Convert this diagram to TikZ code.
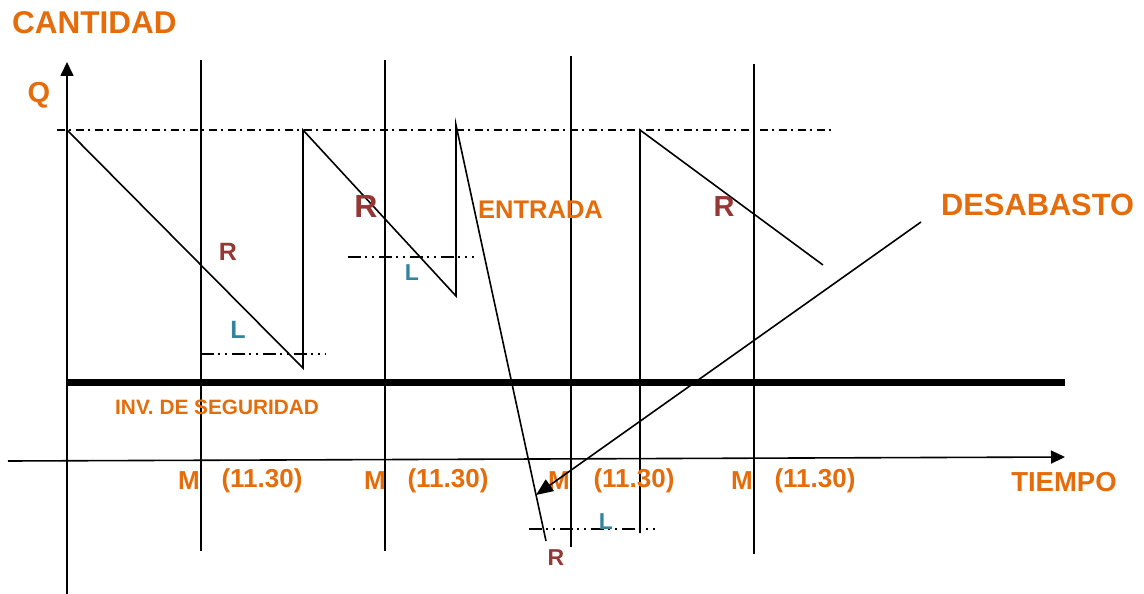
\documentclass[tikz,border=0pt]{standalone}
\usepackage{fontspec}
\setmainfont{Liberation Sans}
\usetikzlibrary{arrows.meta}
\definecolor{orng}{HTML}{E46C0A}
\definecolor{rred}{HTML}{953735}
\definecolor{lteal}{HTML}{31849B}
\begin{document}
\begin{tikzpicture}[x=1pt,y=-1pt,
  thinln/.style={line width=1.6pt, black},
  thickln/.style={line width=6.5pt, black},
  axisarrow/.style={thinln, -{Triangle[length=14pt,width=13pt]}},
  dashdot/.style={thinln, dash pattern=on 8pt off 4pt on 2pt off 5pt},
  dashdotdot/.style={thinln, dash pattern=on 13pt off 4pt on 2pt off 5pt on 2pt off 5pt},
  txt/.style={inner sep=0pt, text=orng, font=\bfseries\fontsize{#1}{#1}\selectfont},
  rlab/.style={inner sep=0pt, text=rred, font=\bfseries\fontsize{#1}{#1}\selectfont},
  llab/.style={inner sep=0pt, text=lteal, font=\bfseries\fontsize{#1}{#1}\selectfont}]
\useasboundingbox (0,0) rectangle (1144,594);

% axes
\coordinate (yb) at (67,594);
\coordinate (yt) at (67,62);
\coordinate (xl) at (8,461);
\coordinate (xr) at (1065,457);
\draw[axisarrow] (yb) -- (yt);
\draw[axisarrow] (xl) -- (xr);

% vertical period lines
\coordinate (v1t) at (201,60);  \coordinate (v1b) at (201,551);
\coordinate (v2t) at (385,60);  \coordinate (v2b) at (385,551);
\coordinate (v3t) at (571,56);  \coordinate (v3b) at (571,547);
\coordinate (v4t) at (754,64);  \coordinate (v4b) at (754,554);
\draw[thinln] (v1t) -- (v1b);
\draw[thinln] (v2t) -- (v2b);
\draw[thinln] (v3t) -- (v3b);
\draw[thinln] (v4t) -- (v4b);

% top Q level
\coordinate (ql) at (57,130);
\coordinate (qr) at (835,130);
\draw[dashdot] (ql) -- (qr);

% safety stock
\coordinate (sl) at (67,382.5);
\coordinate (sr) at (1065,382.5);
\draw[thickln] (sl) -- (sr);

% sawtooth
\coordinate (a0) at (67,130);
\coordinate (a1) at (303,368);
\coordinate (a2) at (303,130);
\coordinate (a3) at (456,296);
\coordinate (a4) at (456,125);
\coordinate (a5) at (546,541);
\coordinate (b0) at (640,533);
\coordinate (b1) at (640,130);
\coordinate (b2) at (823,265);
\draw[thinln] (a0) -- (a1) -- (a2) -- (a3) -- (a4) -- (a5);
\draw[thinln] (b0) -- (b1) -- (b2);

% reorder lines
\coordinate (r1l) at (201,354); \coordinate (r1r) at (326,354);
\coordinate (r2l) at (348,257); \coordinate (r2r) at (474,257);
\coordinate (r3l) at (529,529); \coordinate (r3r) at (655,529);
\draw[dashdotdot] (r1l) -- (r1r);
\draw[dashdotdot] (r2l) -- (r2r);
\draw[dashdotdot] (r3l) -- (r3r);

% labels
\node[txt=31.5, anchor=west] (cant) at (12,23) {CANTIDAD};
\node[txt=29] (q) at (39,95) {Q};
\node[txt=20.8, anchor=west] (inv) at (115,407) {INV. DE SEGURIDAD};
\node[txt=25.5, anchor=west] (entr) at (478,210) {ENTRADA};
\node[txt=30.8, anchor=west] (desab) at (941,205) {DESABASTO};
\node[txt=27.5] (tiempo) at (1064,482) {TIEMPO};

\node[txt=26] (m1) at (189,481) {M};
\node[txt=26] (t1) at (262,481) {(11.30)};
\node[txt=26] (m2) at (375,481) {M};
\node[txt=26] (t2) at (448,481) {(11.30)};
\node[txt=26] (m3) at (559,481) {M};
\node[txt=26] (t3) at (634,481) {(11.30)};
\node[txt=26] (m4) at (742,481) {M};
\node[txt=26] (t4) at (815,481) {(11.30)};

\node[rlab=25] (rA) at (228,252) {R};
\node[rlab=32] (rB) at (366,206) {R};
\node[rlab=29] (rC) at (724,207) {R};
\node[rlab=23] (rD) at (556,558) {R};

\node[llab=25] (lA) at (238,330) {L};
\node[llab=23] (lB) at (412,273) {L};
\node[llab=23] (lC) at (606,522) {L};

% shortage arrow
\coordinate (dfrom) at (921,222);
\coordinate (dto) at (536,495);
\draw[thinln, -{Triangle[length=17pt,width=14pt]}] (dfrom) -- (dto);
\end{tikzpicture}
\end{document}
